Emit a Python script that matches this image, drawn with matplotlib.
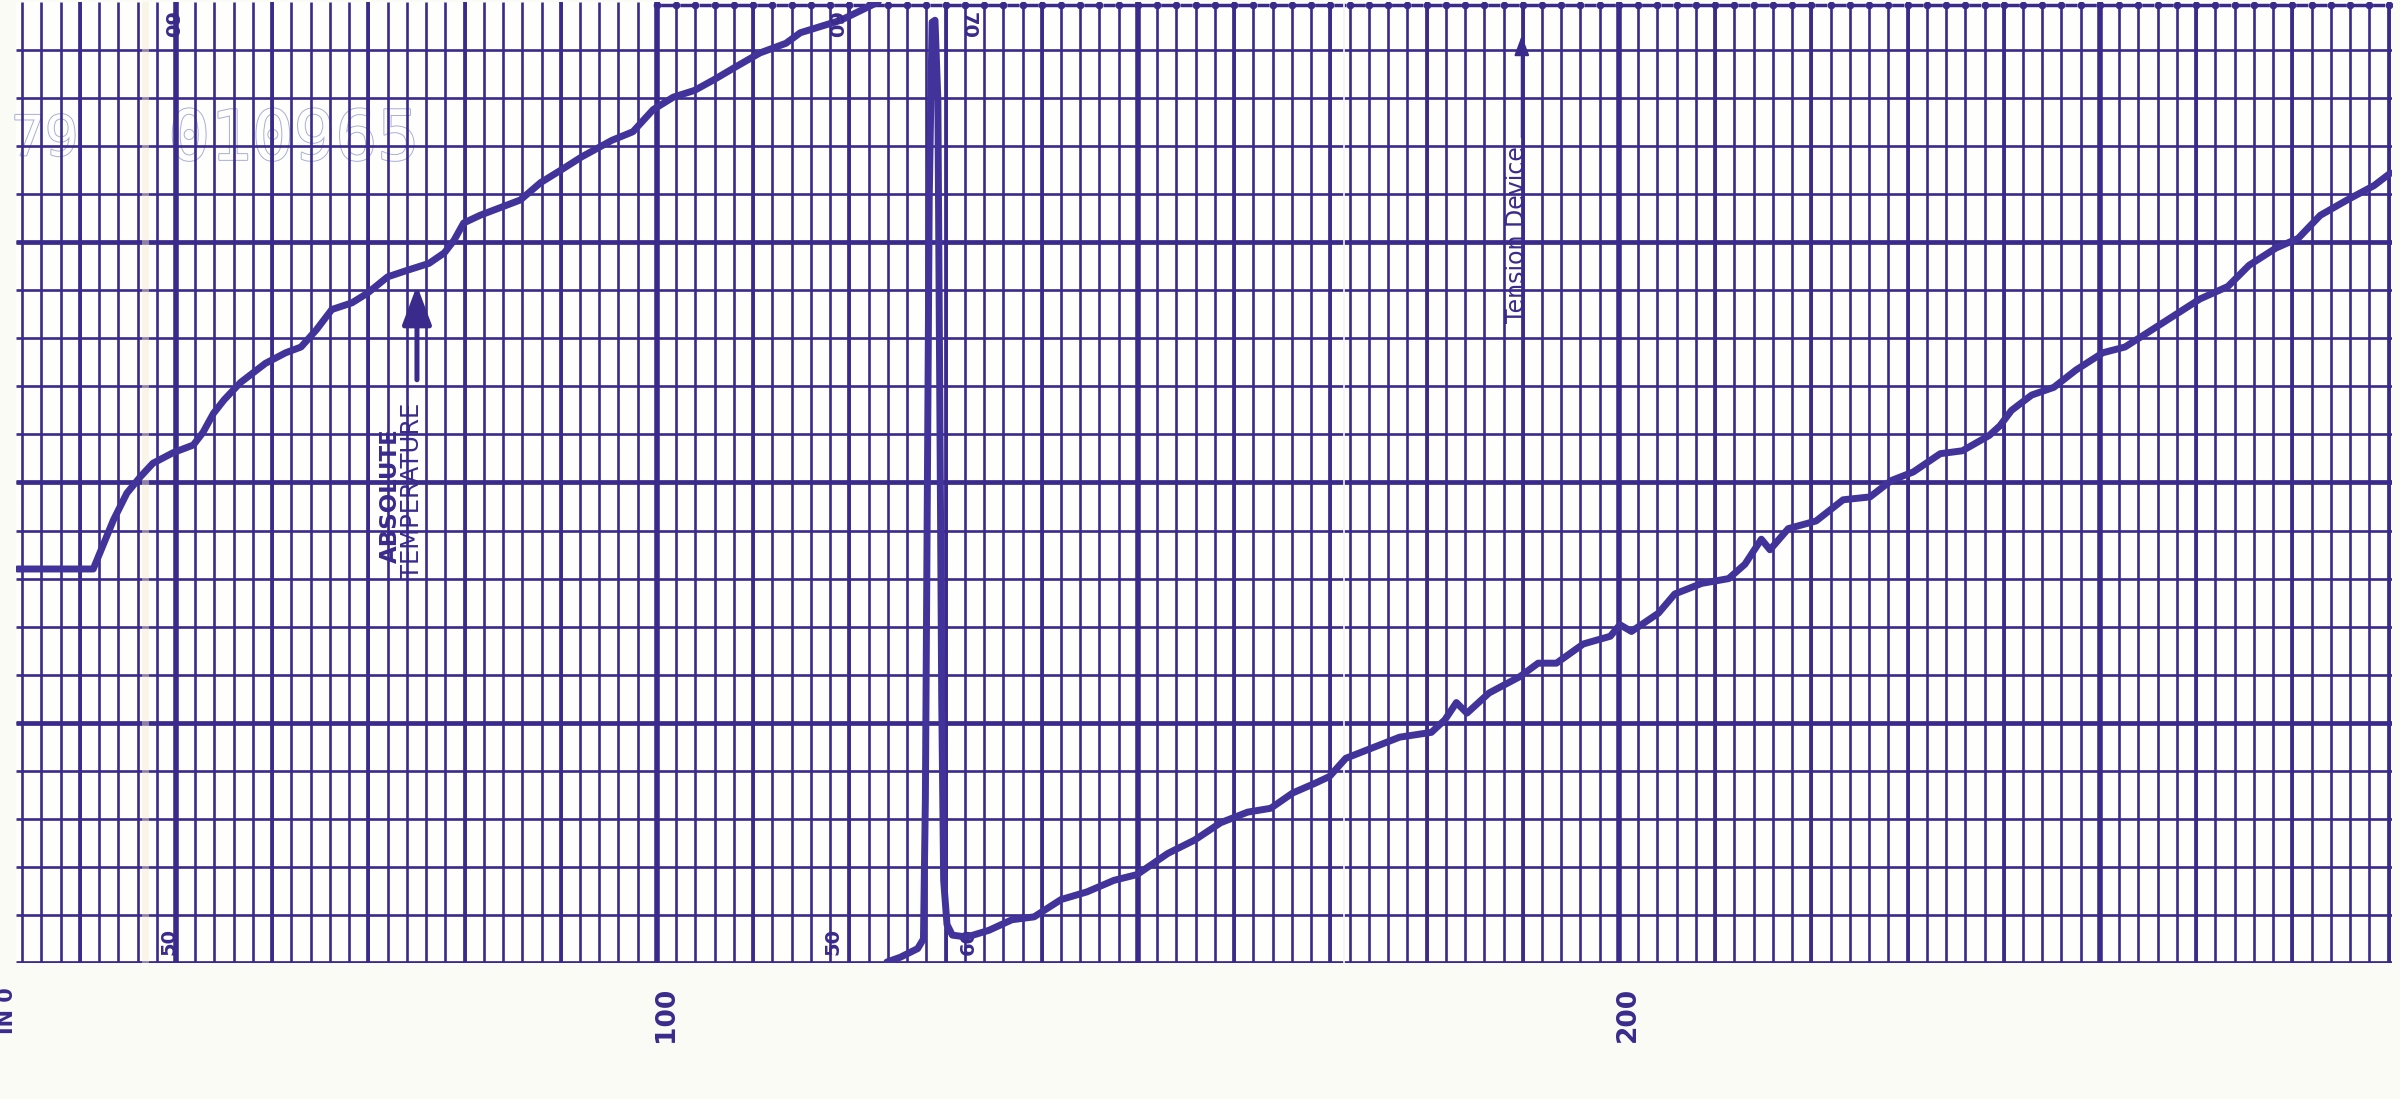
import numpy as np
import matplotlib.pyplot as plt
from matplotlib import patheffects as pe

# absolute temperature trace (pen range 50-60)
temp_x = [33.5, 41.4, 42.1, 43.5, 44.9, 46.3, 47.6, 49.7, 51.8, 52.8, 53.9, 55.0,
          56.7, 59.3, 61.4, 63.0, 64.6, 66.2, 68.3, 69.9, 72.0, 74.1, 76.3, 77.9,
          78.9, 79.9, 81.6, 83.7, 85.8, 87.9, 90.0, 92.2, 95.3, 97.5, 99.6, 101.7,
          103.9, 105.9, 108.1, 110.7, 113.4, 114.9, 119.1, 123.0]
temp_y = [54.10, 54.10, 54.27, 54.61, 54.89, 55.06, 55.20, 55.31, 55.39, 55.52, 55.72, 55.86,
          56.04, 56.24, 56.35, 56.41, 56.59, 56.80, 56.87, 56.97, 57.14, 57.21, 57.28, 57.39,
          57.52, 57.70, 57.78, 57.86, 57.94, 58.12, 58.25, 58.39, 58.56, 58.65, 58.88, 59.01,
          59.08, 59.19, 59.32, 59.47, 59.57, 59.68, 59.81, 60.00]

# tension device trace (pen range 60-70)
tens_x = [123.9, 125.3, 127.1, 127.7, 127.9, 128.1, 128.3, 128.6, 128.9, 129.2, 129.4,
          129.6, 129.8, 130.15, 130.7, 132.2, 134.5, 136.9, 139.2, 142.0, 144.7, 147.5,
          149.9, 153.1, 155.9, 158.6, 161.4, 163.8, 166.1, 168.4, 169.9, 171.6, 174.4,
          177.2, 180.5, 181.9, 183.1, 184.2, 186.5, 189.7, 191.6, 193.5, 196.3, 199.1,
          200.1, 201.3, 204.1, 205.8, 208.6, 211.4, 213.1, 214.8, 215.7, 217.6, 220.5,
          223.3, 226.1, 228.3, 230.6, 233.4, 235.7, 238.5, 239.6, 240.8, 242.9, 245.2,
          247.5, 250.3, 252.6, 254.8, 257.6, 260.4, 263.3, 265.5, 268.3, 270.6, 272.9,
          275.7, 278.5, 280.2]
tens_y = [60.01, 60.06, 60.15, 60.25, 61.70, 64.82, 67.94, 69.79, 69.81, 68.98, 65.86,
          62.74, 60.86, 60.40, 60.29, 60.27, 60.34, 60.45, 60.48, 60.66, 60.74, 60.86,
          60.92, 61.14, 61.28, 61.46, 61.57, 61.61, 61.77, 61.87, 61.94, 62.13, 62.24,
          62.35, 62.40, 62.53, 62.71, 62.60, 62.81, 62.98, 63.12, 63.12, 63.32, 63.40,
          63.52, 63.45, 63.64, 63.84, 63.95, 64.00, 64.15, 64.41, 64.30, 64.52, 64.60,
          64.82, 64.85, 65.02, 65.11, 65.30, 65.33, 65.49, 65.59, 65.75, 65.91, 65.99,
          66.17, 66.35, 66.41, 66.55, 66.73, 66.91, 67.04, 67.26, 67.44, 67.54, 67.78,
          67.94, 68.09, 68.22]

axis_labels = [100, 200]
range_marks = [(49.3, "50", "60"), (118.3, "50", "60"), (132.4, "60", "70")]

ink = '#3a2a8c'
pen = '#42339a'

fig = plt.figure(figsize=(24, 10.99), dpi=100, facecolor='#fbfbf6')
ax = fig.add_axes([0.00679, 0.12375, 0.99004, 0.87443])
ax.set_facecolor('#fefefc')
ax.set_xlim(33.4, 280.4)
ax.set_ylim(50, 60)
for s in ax.spines.values():
    s.set_visible(False)
ax.set_xticks([])
ax.set_yticks([])

# paper grid
ax.vlines(np.arange(34, 281, 2), 50, 60, color=ink, lw=1.9, zorder=1)
ax.vlines(np.arange(40, 281, 10), 50, 60, color=ink, lw=2.7, zorder=1)
ax.vlines(np.arange(50, 281, 50), 50, 60, color=ink, lw=4.0, zorder=1)
ax.hlines(np.arange(50.5, 60, 0.5), 33.4, 280.4, color=ink, lw=1.9, zorder=1)
ax.hlines([50, 52.5, 55, 57.5], 33.4, 280.4, color=ink, lw=3.4, zorder=1)

# dotted top edge
ax.hlines(59.97, 100, 280.4, color=ink, lw=2.5, linestyles=(4.5, (3.5, 2.04)), zorder=2)
ax.plot(np.arange(100, 281, 2), np.full(91, 59.97), 'o', color=ink, ms=4.5, zorder=2)

# paper folds
ax.axvspan(46.5, 47.2, color='#f2ead0', alpha=0.45, zorder=2, lw=0)
ax.axvline(171.4, color='#f4f4f8', lw=1.2, zorder=2)

# stamped number
ax.text(32.9, 58.56, "79", fontsize=40, family='DejaVu Sans Mono', color='#fefefc',
        va='center', ha='left', zorder=0.5,
        path_effects=[pe.Stroke(linewidth=1.4, foreground='#a9aed2'), pe.Normal()])
ax.text(49.2, 58.56, "010965", fontsize=50, family='DejaVu Sans Mono', color='#fefefc',
        va='center', ha='left', zorder=0.5,
        path_effects=[pe.Stroke(linewidth=1.4, foreground='#a9aed2'), pe.Normal()])

# traces
ax.plot(temp_x, temp_y, color=pen, lw=5, solid_capstyle='round', zorder=4)
ax2 = ax.twinx()
ax2.set_ylim(60, 70)
ax2.axis('off')
ax2.plot(tens_x, tens_y, color=pen, lw=5, solid_capstyle='round', zorder=4)

# range numbers printed by the recorder
for x, lo, hi in range_marks:
    ax.text(x, 50.08, lo, rotation=90, fontsize=14, fontweight='bold', color=ink,
            ha='center', va='bottom', zorder=5)
    ax.text(x, 59.9, hi, rotation=270, fontsize=14, fontweight='bold', color=ink,
            ha='center', va='top', zorder=5)

# time labels under the grid
for v in axis_labels:
    ax.text(v + 0.9, 49.75, str(v), rotation=90, fontsize=19, fontweight='bold',
            color=ink, ha='center', va='top', clip_on=False)
ax.text(32.4, 49.75, "IN 0", rotation=90, fontsize=15, fontweight='bold',
        color=ink, ha='center', va='top', clip_on=False)

# annotations
ax.text(72.3, 54.86, "ABSOLUTE", rotation=90, fontsize=16.5, fontweight='bold',
        color=ink, ha='center', va='center', zorder=5)
ax.text(74.5, 54.91, "TEMPERATURE", rotation=90, fontsize=17.5, color=ink,
        ha='center', va='center', zorder=5)
ax.annotate('', xy=(75.05, 57.08), xytext=(75.05, 56.04),
            arrowprops=dict(arrowstyle='-|>,head_length=0.4,head_width=0.15',
                            mutation_scale=60, lw=3.6, color=ink), zorder=5)

ax.text(189.4, 57.58, "Tension Device", rotation=90, fontsize=17, color=ink,
        ha='center', va='center', zorder=5)
ax.annotate('', xy=(189.9, 59.68), xytext=(189.9, 58.56),
            arrowprops=dict(arrowstyle='-|>,head_length=0.4,head_width=0.15',
                            mutation_scale=30, lw=1.5, color=ink), zorder=5)

fig.savefig("out.png", dpi=100, facecolor=fig.get_facecolor())
